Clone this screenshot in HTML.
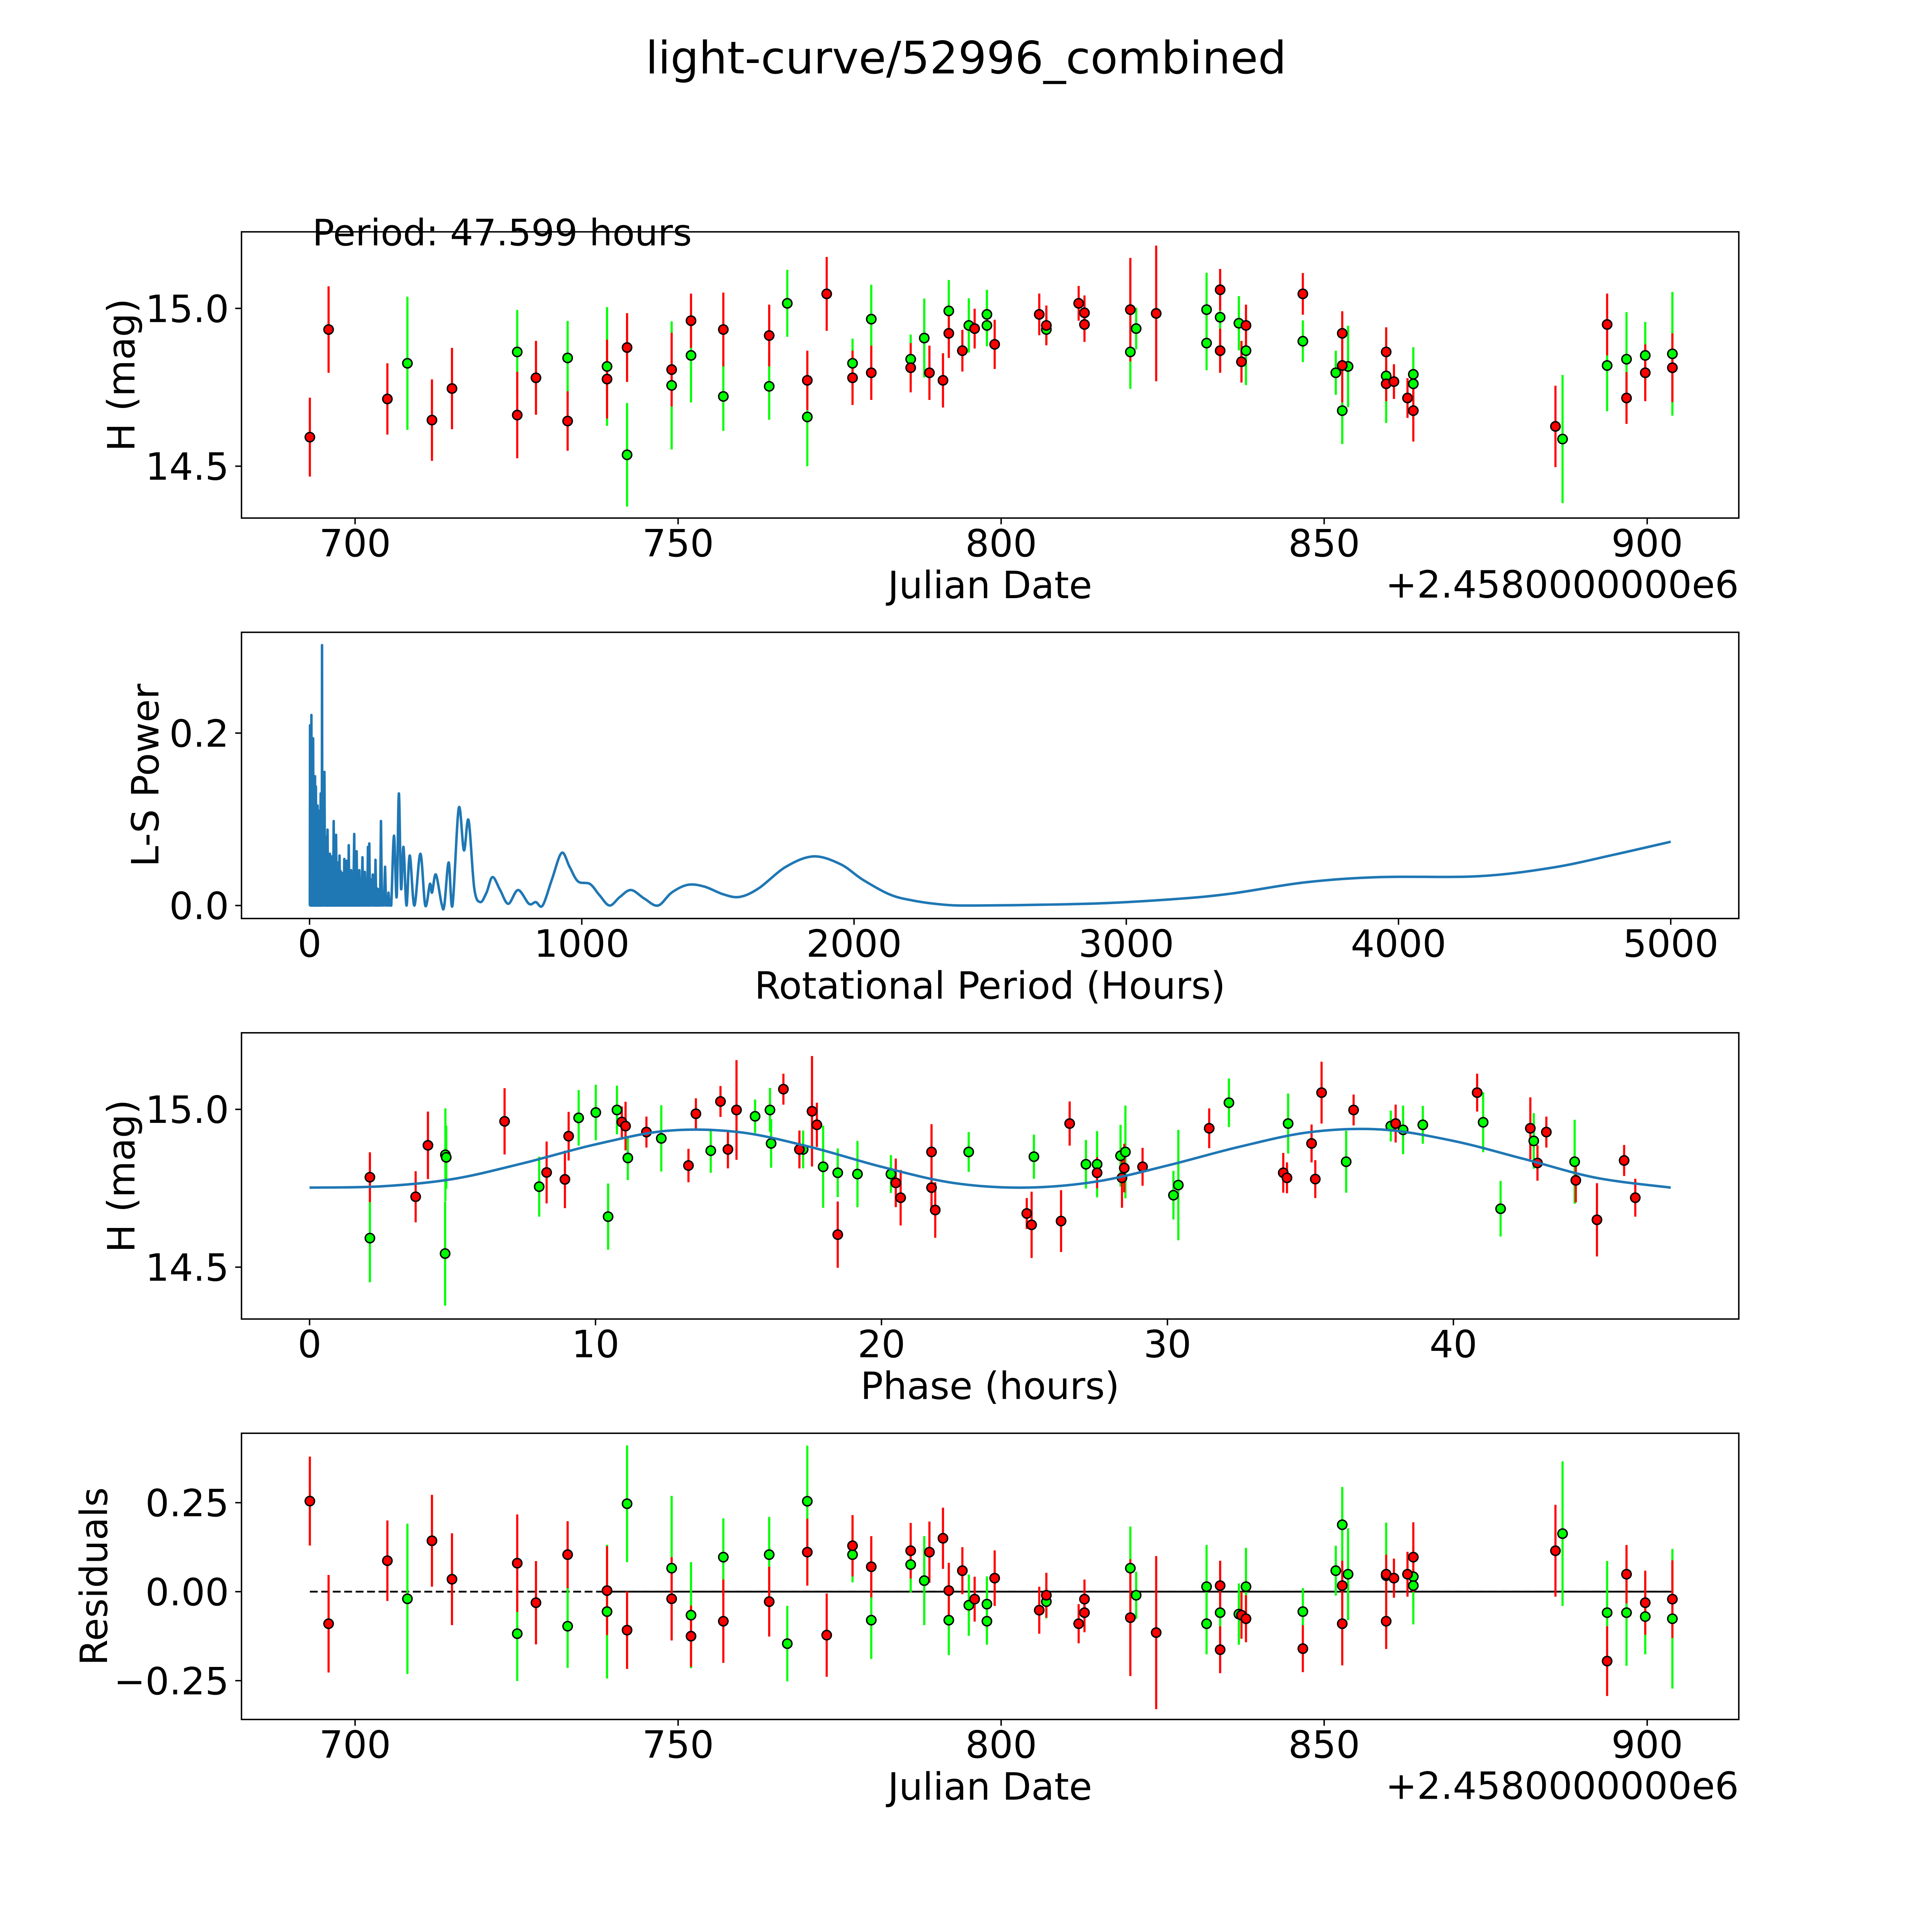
<!DOCTYPE html>
<html><head><meta charset="utf-8"><title>light-curve/52996_combined</title>
<style>html,body{margin:0;padding:0;background:#fff;overflow:hidden;width:100%;height:100%}svg{display:block;width:100vw;height:100vh}text{font-family:"DejaVu Sans","Liberation Sans",sans-serif;fill:#000}</style>
</head><body>
<svg id="fig" xmlns="http://www.w3.org/2000/svg" viewBox="0 0 5400 5400" preserveAspectRatio="none">
<rect width="5400" height="5400" fill="#fff"/>
<text x="2700" y="205" font-size="125" text-anchor="middle">light-curve/52996_combined</text>
<g id="g1"></g>
<g id="g2"></g>
<g id="g3"></g>
<g id="g4"></g>
<text x="873" y="686" font-size="102">Period: 47.599 hours</text>
<text x="2767" y="1672" font-size="105" text-anchor="middle">Julian Date</text>
<text x="4860" y="1670" font-size="105" text-anchor="end">+2.4580000000e6</text>
<text transform="translate(376,1048) rotate(-90)" font-size="105" text-anchor="middle">H (mag)</text>
<text x="2767" y="2791" font-size="105" text-anchor="middle">Rotational Period (Hours)</text>
<text transform="translate(443,2167) rotate(-90)" font-size="105" text-anchor="middle">L-S Power</text>
<text x="2767" y="3910" font-size="105" text-anchor="middle">Phase (hours)</text>
<text transform="translate(376,3287) rotate(-90)" font-size="105" text-anchor="middle">H (mag)</text>
<text x="2767" y="5030" font-size="105" text-anchor="middle">Julian Date</text>
<text x="4860" y="5028" font-size="105" text-anchor="end">+2.4580000000e6</text>
<text transform="translate(299,4406) rotate(-90)" font-size="105" text-anchor="middle">Residuals</text>
</svg>
<script>
// ---------- data ----------
const DAYS = [693.0,695.9,705.0,708.1,711.9,715.0,725.1,725.1,728.0,732.9,732.9,739.0,739.0,742.1,742.1,749.0,749.0,752.0,752.0,757.0,757.0,764.1,764.1,766.9,770.0,770.0,773.0,777.0,777.0,779.9,779.9,786.0,786.0,788.1,788.9,791.0,791.9,791.9,794.0,795.0,795.9,797.8,797.8,799.0,805.9,807.0,807.0,812.0,812.9,812.9,820.0,820.0,820.9,824.0,831.8,831.8,833.9,833.9,833.9,836.8,837.2,837.9,837.9,846.7,846.7,851.8,852.8,852.8,852.8,853.7,859.6,859.6,859.6,860.8,862.9,863.8,863.8,863.8,885.8,886.9,893.8,893.8,896.8,896.8,899.7,899.7,903.9,903.9];
const BANDS = "rrrgrrrgrrgrgrgrgrgrgrggrgrrgrgrggrrrgrgrggrrrgrrrrggrggrgrgrrgrggrrggrgrrrggrrgrgrgrgrg";
const MAGS = [14.592,14.933,14.713,14.826,14.646,14.746,14.662,14.862,14.780,14.643,14.843,14.776,14.816,14.876,14.536,14.806,14.756,14.961,14.851,14.933,14.721,14.914,14.753,15.016,14.772,14.656,15.046,14.780,14.826,14.796,14.966,14.812,14.839,14.906,14.796,14.772,14.921,14.992,14.866,14.946,14.936,14.981,14.946,14.886,14.981,14.946,14.933,15.016,14.986,14.949,14.996,14.862,14.936,14.984,14.996,14.890,15.059,14.972,14.866,14.953,14.831,14.946,14.866,15.046,14.896,14.796,14.921,14.819,14.676,14.816,14.862,14.786,14.761,14.768,14.716,14.791,14.761,14.676,14.626,14.586,14.949,14.819,14.716,14.839,14.796,14.851,14.812,14.856];
const ERRS = [.125,.137,.113,.211,.129,.129,.137,.133,.117,.094,.117,.125,.188,.109,.164,.117,.203,.086,.149,.117,.109,.098,.106,.106,.094,.156,.117,.086,.078,.086,.109,.078,.078,.125,.086,.086,.078,.098,.066,.086,.063,.078,.066,.078,.066,.063,.047,.055,.055,.055,.164,.117,.066,.215,.117,.086,.066,.086,.070,.086,.066,.066,.109,.066,.066,.070,.070,.117,.106,.129,.078,.149,.055,.055,.063,.086,.109,.098,.129,.203,.098,.145,.082,.149,.090,.106,.109,.196];
const RESID = [.2545,-.090,.087,-.020,.143,.035,.080,-.118,-.031,.104,-.097,.003,-.056,-.108,.247,-.020,.066,-.125,-.066,-.083,.097,-.028,.104,-.146,.111,.254,-.122,.129,.104,.070,-.080,.115,.076,.031,.111,.150,.003,-.080,.059,-.038,-.021,-.035,-.083,.038,-.052,-.010,-.028,-.090,-.059,-.021,-.073,.066,-.010,-.115,.014,-.090,-.163,-.059,.017,-.063,-.066,-.076,.014,-.160,-.056,.059,.017,-.090,.188,.049,-.083,.045,.049,.038,.049,.042,.017,.097,.115,.163,-.195,-.059,.049,-.059,-.031,-.070,-.021,-.076];
const PHASE = [2.11,2.11,3.71,4.14,4.75,4.78,4.74,6.82,8.03,8.29,8.93,9.06,9.41,10.01,10.44,10.75,10.92,11.05,11.13,11.78,12.3,13.25,13.51,14.03,14.37,14.63,14.93,15.58,16.1,16.14,16.57,17.13,17.26,17.57,17.74,17.96,18.47,18.47,19.16,20.33,20.5,20.67,21.75,21.75,21.88,23.05,25.08,25.25,25.33,26.28,26.58,27.15,27.54,27.54,28.36,28.41,28.49,28.53,29.13,30.21,30.38,31.46,32.15,34.05,34.18,34.22,35.04,35.17,35.39,36.25,36.51,37.81,37.98,38.24,38.93,40.83,41.04,41.65,42.69,42.81,42.94,43.25,44.24,44.28,45.02,45.97,46.36];
const PHASE_BANDS = "rgrrgggrgrrrggggrrgrgrrgrrrgggrrgrrgrgggrrrrrgrrgrrggrgrrgrggrgrrgrrrgrgrggrggrgrrgrrrr";
const PHASE_MAG = [14.785,14.592,14.723,14.886,14.856,14.848,14.543,14.962,14.755,14.8,14.778,14.915,14.973,14.99,14.66,14.998,14.96,14.947,14.846,14.928,14.908,14.822,14.986,14.869,15.025,14.873,14.998,14.978,14.998,14.892,15.064,14.873,14.873,14.994,14.951,14.818,14.603,14.799,14.795,14.795,14.767,14.72,14.865,14.752,14.681,14.865,14.67,14.634,14.85,14.646,14.955,14.826,14.826,14.799,14.853,14.783,14.814,14.865,14.818,14.728,14.76,14.94,15.021,14.799,14.783,14.955,14.892,14.779,15.053,14.834,14.998,14.947,14.955,14.935,14.951,15.053,14.959,14.685,14.94,14.9,14.83,14.928,14.834,14.775,14.65,14.838,14.72];
const PHASE_ERR = [.079,.140,.081,.107,.147,.10,.165,.105,.095,.098,.091,.077,.088,.088,.105,.077,.049,.077,.07,.049,.105,.053,.049,.07,.049,.06,.158,.053,.07,.077,.049,.06,.06,.175,.07,.13,.105,.077,.105,.06,.077,.088,.088,.077,.088,.063,.049,.105,.07,.098,.07,.077,.105,.049,.098,.095,.077,.147,.06,.077,.175,.063,.077,.063,.049,.095,.06,.06,.098,.098,.049,.049,.06,.077,.06,.06,.095,.088,.098,.088,.056,.049,.133,.07,.116,.049,.06];
const MODEL_PHASE = [0,2.5,5,7.5,10,12.5,15,17.5,20,22.5,25,27.5,30,32.5,35,37.5,40,42.5,45,47.6];
const MODEL_MAG = [14.752,14.756,14.779,14.83,14.889,14.932,14.928,14.881,14.818,14.767,14.752,14.771,14.822,14.881,14.928,14.936,14.9,14.842,14.783,14.752];
const LS_PERIOD = [1,1.8,3,4.5,5.5,6.8,8,9.5,11,13.1,15,16.5,18,20,21.5,23.2,25,26.5,28,29.5,31,33,34.5,36.5,38.5,40.8,42.5,44,45,45.8,47,49,51,54.6,57,59,61,63,64.5,66,68,70,72,74.8,77,79,80,81,83,85,86.5,88.6,90.5,92,94,97.4,99.5,101,103,105,107,110,112,114,116,118.8,121,124,126,127.6,130,132,134,136.4,138.5,140.5,142,144,146,148,150,152.8,155,158,160.5,164.1,166,168,170,173,175.5,178,180.5,183,185.5,188,191,194.3,197,199,201,203.2,206,209,212,214.5,217,219.5,222,226,229,232.1,235,237,239.5,242.2,245,247,249.5,252.3,255,257,259,262.3,266,270,273,277.4,281,284,287,290,294,300,310,320,328,336,345,356,368,385,407,425,442,450,464,485,495,511,525,548,567,584,605,627,650,672,700,730,766,806,831,856,890,926,955,986,1030,1065,1102,1140,1181,1230,1280,1330,1389,1450,1520,1580,1650,1750,1851,1950,2032,2130,2213,2330,2439,2700,2937,3200,3389,3660,3932,4294,4566,4792,5000];
const LS_POWER = [0,.209,0,.17,0,.221,0,.15,0,.194,0,.12,0,.15,0,.138,0,.10,0,.116,0,.09,0,.11,0,.130,0,.08,0,.302,0,.09,0,.155,0,.07,0,.08,0,.088,0,.06,0,.06,0,.05,0,.057,0,.04,0,.098,0,.05,0,.082,0,.04,0,.05,0,.058,0,.04,0,.038,0,.035,0,.054,0,.03,0,.052,0,.03,0,.070,0,.03,0,.041,0,.03,0,.083,0,.035,0,.063,0,.03,0,.041,0,.03,0,.056,0,.025,0,.039,0,.03,0,.068,0,.072,0,.03,0,.036,0,.03,0,.053,0,.02,0,.019,0,.015,0,.098,0,.01,0,.045,0,.01,0,.015,0,0,.081,.01,.130,.02,.068,0,.058,0,.060,0,.025,.015,.036,.002,0,.05,0,.113,.064,.099,.02,.004,.015,.033,.018,.002,.018,.002,.004,0,.03,.061,.045,.028,.025,.012,0,.01,.018,.008,0,.015,.024,.022,.013,.01,.02,.045,.057,.048,.03,.013,.006,.001,0,.001,.003,.008,.014,.027,.033,.034,.044,.059,.074];
const X_TICKS_JD = [700,750,800,850,900];
const Y_TICKS_MAG = [14.5,15.0];
const Y_TICK_MAG_LABELS = ["14.5","15.0"];
const X_TICKS_LS = [0,1000,2000,3000,4000,5000];
const Y_TICKS_LS = [0.0,0.2];
const Y_TICK_LS_LABELS = ["0.0","0.2"];
const X_TICKS_PHASE = [0,10,20,30,40];
const Y_TICKS_RES = [-0.25,0,0.25];
const Y_TICK_RES_LABELS = ["\u22120.25","0.00","0.25"];
const ZERO_SOLID_START = 739.0;

// ---------- layout ----------
const NS = "http://www.w3.org/2000/svg";
const L = 675, R = 4860;
function mk(tag, attrs, parent){const e=document.createElementNS(NS,tag);for(const k in attrs)e.setAttribute(k,attrs[k]);parent.appendChild(e);return e;}
function scale(d0,d1,p0,p1){return v=>p0+(v-d0)*(p1-p0)/(d1-d0);}
const COL = {r:"#ff0000", g:"#00ff00"};

function axesFrame(g, top, bot, xs, ys, xt, xl, yt, yl, name){
  const fr = mk('rect',{x:L,y:top,width:R-L,height:bot-top,fill:'none',stroke:'#000','stroke-width':4},g);
  
  
  xt.forEach((v,i)=>{
    const x = xs(v);
    const t = mk('line',{x1:x,x2:x,y1:bot,y2:bot+17.5,stroke:'#000','stroke-width':4},g);
    
    
    const lb = mk('text',{x:x,y:bot+107,'font-size':105,'text-anchor':'middle'},g);
    
    
    lb.textContent = xl[i];
  });
  yt.forEach((v,i)=>{
    const y = ys(v);
    const t = mk('line',{x1:L-17.5,x2:L,y1:y,y2:y,stroke:'#000','stroke-width':4},g);
    
    
    const lb = mk('text',{x:L-35,y:y+38,'font-size':105,'text-anchor':'end'},g);
    
    
    lb.textContent = yl[i];
  });
}
function errPoints(g, xv, yv, ev, bands, xs, ys, name){
  ['g','r'].forEach(b=>{
    xv.forEach((x,i)=>{
      if(bands[i]!==b) return;
      const ln = mk('line',{x1:xs(x),x2:xs(x),y1:ys(yv[i]-ev[i]),y2:ys(yv[i]+ev[i]),stroke:COL[b],'stroke-width':6},g);
      
      
    });
  });
  ['g','r'].forEach(b=>{
    xv.forEach((x,i)=>{
      if(bands[i]!==b) return;
      const c = mk('circle',{cx:xs(x),cy:ys(yv[i]),r:13,fill:COL[b],stroke:'#000','stroke-width':4},g);
      
      
    });
  });
}
function seg(px,py,i){
  const n=px.length;
  const x0=px[Math.max(i-1,0)],y0=py[Math.max(i-1,0)],x1=px[i],y1=py[i],x2=px[i+1],y2=py[i+1],x3=px[Math.min(i+2,n-1)],y3=py[Math.min(i+2,n-1)];
  return ' C'+(x1+(x2-x0)/6)+','+(y1+(y2-y0)/6)+' '+(x2-(x3-x1)/6)+','+(y2-(y3-y1)/6)+' '+x2+','+y2;
}
function smoothPath(px, py){
  let d = 'M'+px[0]+','+py[0];
  for(let i=0;i<px.length-1;i++) d += seg(px,py,i);
  return d;
}

// panel 1
(function(){
  const g = document.getElementById('g1');
  const xs = scale(682.42,914.18,L,R), ys = scale(14.3356,15.2426,1448,648);
  axesFrame(g,648,1448,xs,ys,X_TICKS_JD,X_TICKS_JD.map(String),Y_TICKS_MAG,Y_TICK_MAG_LABELS,'light-curve');
  errPoints(g,DAYS,MAGS,ERRS,BANDS,xs,ys,'light-curve');
})();
// panel 2
(function(){
  const g = document.getElementById('g2');
  const xs = scale(-250,5250,L,R), ys = scale(-0.01506,0.3169,2567.3,1767.3);
  axesFrame(g,1767.3,2567.3,xs,ys,X_TICKS_LS,X_TICKS_LS.map(String),Y_TICKS_LS,Y_TICK_LS_LABELS,'periodogram');
  const px = LS_PERIOD.map(xs), py = LS_POWER.map(ys);
  let d = 'M'+px[0]+','+py[0];
  for(let i=0;i<px.length-1;i++){
    if(LS_PERIOD[i] < 300) d += ' L'+px[i+1]+','+py[i+1];
    else d += seg(px,py,i);
  }
  const pl = mk('path',{d:d,fill:'none',stroke:'#1f77b4','stroke-width':7,'stroke-linejoin':'round'},g);
  
  
})();
// panel 3
(function(){
  const g = document.getElementById('g3');
  const xs = scale(-2.38,49.98,L,R), ys = scale(14.3356,15.2426,3686.7,2886.7);
  axesFrame(g,2886.7,3686.7,xs,ys,X_TICKS_PHASE,X_TICKS_PHASE.map(String),Y_TICKS_MAG,Y_TICK_MAG_LABELS,'phase');
  errPoints(g,PHASE,PHASE_MAG,PHASE_ERR,PHASE_BANDS,xs,ys,'phase');
  const p = mk('path',{d:smoothPath(MODEL_PHASE.map(xs),MODEL_MAG.map(ys)),fill:'none',stroke:'#1f77b4','stroke-width':7},g);
  
  
})();
// panel 4
(function(){
  const g = document.getElementById('g4');
  const xs = scale(682.42,914.18,L,R), ys = scale(-0.359,0.445,4806,4006);
  axesFrame(g,4006,4806,xs,ys,X_TICKS_JD,X_TICKS_JD.map(String),Y_TICKS_RES,Y_TICK_RES_LABELS,'residuals');
  const dl = mk('line',{x1:xs(DAYS[0]),x2:xs(DAYS[DAYS.length-1]),y1:ys(0),y2:ys(0),stroke:'#000','stroke-width':5,'stroke-dasharray':'22 10'},g);
  
  
  const sl = mk('line',{x1:xs(ZERO_SOLID_START),x2:xs(DAYS[DAYS.length-1]),y1:ys(0),y2:ys(0),stroke:'#000','stroke-width':5},g);
  
  
  errPoints(g,DAYS,RESID,ERRS,BANDS,xs,ys,'residuals');
})();
</script>
</body></html>
